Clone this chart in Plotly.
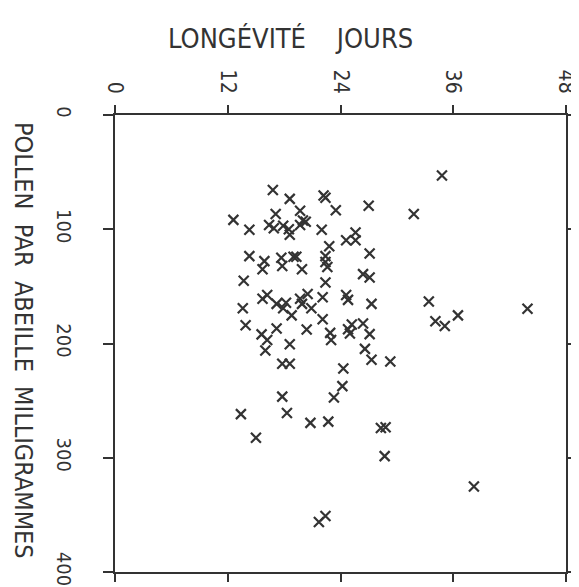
import plotly.graph_objects as go

# Longevity (days) and pollen per bee (mg)
longevite_jours = [16.8, 18.6, 22.2, 22.4, 27.0, 23.5, 19.7, 34.8, 31.8, 17.1,
                   12.6, 14.3, 16.4, 16.9, 17.9, 18.5, 18.6, 19.7, 20.0, 20.3,
                   22.0, 25.6, 24.6, 25.6, 22.8, 27.1, 14.3, 15.9, 15.7, 17.7,
                   17.8, 19.0, 19.3, 19.9, 22.4, 22.4, 22.6, 26.4, 27.1, 13.7,
                   22.4, 16.2, 15.7, 17.2, 18.2, 17.9, 19.7, 20.5, 19.9, 20.9,
                   18.8, 22.1, 24.6, 24.8, 27.3, 13.6, 13.9, 22.1, 17.2, 15.6,
                   16.2, 20.4, 22.9, 23.0, 24.8, 25.2, 25.0, 26.4, 27.1, 18.6,
                   16.0, 26.6, 27.3, 29.3, 17.8, 18.6, 24.3, 33.4, 34.1, 35.1,
                   36.5, 43.9, 24.2, 17.8, 23.3, 13.4, 18.3, 20.8, 22.7, 28.3,
                   28.8, 15.0, 28.7, 38.2, 22.4, 21.7]
pollen_mg = [65.7, 73.4, 70.5, 72.5, 79.5, 83.4, 83.8, 53.0, 86.6, 86.6,
             91.8, 100.5, 96.2, 99.1, 97.0, 100.0, 104.8, 96.2, 92.4, 93.5,
             100.5, 102.8, 109.7, 109.7, 114.9, 121.2, 123.5, 127.9, 135.0, 125.0,
             132.2, 124.1, 124.1, 135.0, 123.5, 128.7, 133.0, 139.3, 142.3, 145.1,
             146.6, 157.5, 160.9, 165.3, 164.4, 169.1, 160.9, 156.6, 165.3, 169.1,
             175.4, 159.6, 157.5, 161.8, 165.3, 169.1, 184.0, 178.8, 186.9, 192.0,
             197.0, 187.7, 190.7, 197.0, 187.5, 183.4, 191.2, 182.5, 191.8, 200.7,
             206.2, 204.7, 214.2, 215.7, 217.7, 217.7, 221.8, 163.3, 180.6, 184.6,
             175.4, 169.6, 237.3, 246.5, 247.3, 261.8, 260.9, 269.5, 268.4, 273.9,
             273.3, 282.5, 298.6, 325.1, 351.0, 356.2]

x_ticks = [0, 12, 24, 36, 48]
y_ticks = [0, 100, 200, 300, 400]
x_title = "LONGÉVITÉ    JOURS"
y_title = "POLLEN  PAR  ABEILLE  MILLIGRAMMES"

FONT = "Liberation Sans Narrow, DejaVu Sans Condensed, Arial Narrow, sans-serif"
INK = "#333333"

fig = go.Figure(go.Scatter(
    x=longevite_jours, y=pollen_mg, mode="markers",
    marker=dict(symbol="x-thin", size=10, color=INK, line=dict(width=2.2, color=INK)),
    hoverinfo="skip", cliponaxis=False,
))

fig.update_layout(
    width=579, height=587,
    margin=dict(l=107, r=9, t=107, b=17),
    paper_bgcolor="white", plot_bgcolor="white",
    showlegend=False,
    font=dict(family=FONT, color=INK),
)

fig.update_xaxes(
    side="top", range=[0, 48], tickvals=x_ticks, ticktext=[str(v) for v in x_ticks],
    tickangle=90, ticks="outside", ticklen=8, tickwidth=2, tickcolor=INK,
    showline=True, linewidth=2, linecolor=INK, mirror="ticks",
    showgrid=False, zeroline=False, tickfont=dict(size=21, family=FONT, color=INK),
    ticklabelstandoff=4,
)
fig.update_yaxes(
    range=[400, 0], tickvals=y_ticks, ticktext=[str(v) for v in y_ticks],
    tickangle=90, ticks="outside", ticklen=10, tickwidth=2, tickcolor=INK,
    showline=True, linewidth=2, linecolor=INK, mirror="ticks",
    showgrid=False, zeroline=False, tickfont=dict(size=20, family=FONT, color=INK),
    ticklabelstandoff=22,
)

fig.add_annotation(
    text=x_title, xref="paper", yref="paper",
    x=(287 - 107) / 463, y=(570 - 30) / 463, xanchor="center", yanchor="middle",
    showarrow=False, font=dict(size=27, family=FONT, color=INK),
)
fig.add_annotation(
    text=y_title, xref="paper", yref="paper", textangle=90,
    x=(-4 - 107) / 463, y=(570 - 112) / 463, xanchor="left", yanchor="top",
    showarrow=False, font=dict(size=25, family=FONT, color=INK),
)

fig.write_html("out.html")
